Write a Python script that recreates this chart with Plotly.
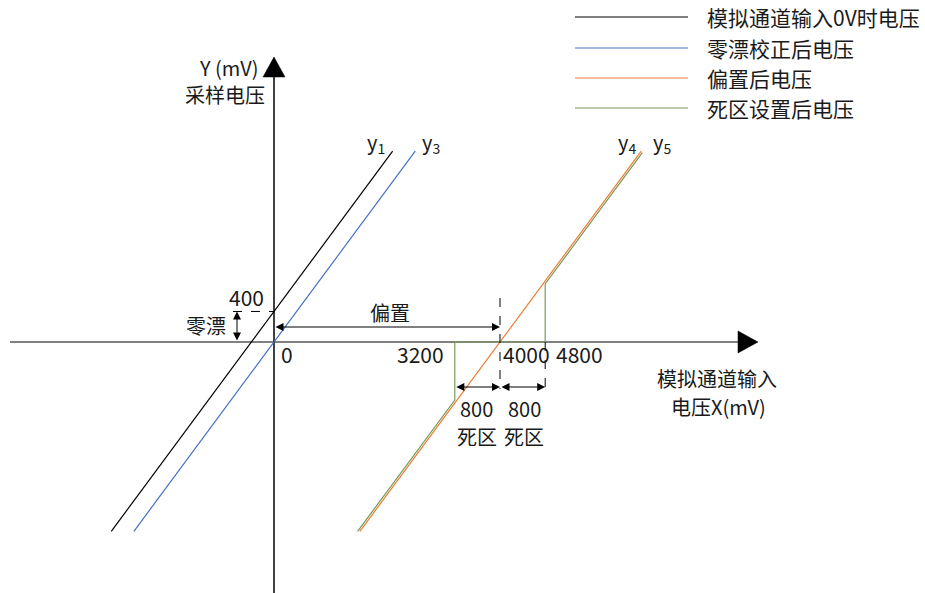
import plotly.graph_objects as go

W, H = 925, 593

# ---------------- data (mV) ----------------
zero_drift = 400          # 零漂
offset_val = 4000         # 偏置
dead_zone = 800           # 死区
x_tick_vals = [0, 3200, 4000, 4800]
x_tick_text = ["0", "3200", "4000", "4800"]

y1_x = [-2880, 2100]      # 模拟通道输入0V时电压
y1_y = [-2480, 2500]
y3_x = [-2480, 2500]      # 零漂校正后电压
y3_y = [-2480, 2500]
y4_x = [1520, 6500]       # 偏置后电压
y4_y = [-2480, 2500]
y5_x = [1480, 3200, 3200, 4800, 4800, 6520]   # 死区设置后电压
y5_y = [-2480, -760, 0, 0, 760, 2480]

legend_names = ["模拟通道输入0V时电压", "零漂校正后电压", "偏置后电压", "死区设置后电压"]
line_names = ["y<sub>1</sub>", "y<sub>3</sub>", "y<sub>4</sub>", "y<sub>5</sub>"]

# ---------------- layout geometry ----------------
SX = 17.7   # mV per pixel (x)
SY = 13.1   # mV per pixel (y)
OX, OY = 274, 342  # origin pixel
def px2x(p): return (p - OX) * SX
def px2y(p): return (OY - p) * SY

BLACK = "#000000"
BLUE = "#4472C4"
ORANGE = "#ED7D31"
GREEN = "#7A9A5C"
GRAY = "#808080"
TXT = "#1a1a1a"
FONT = "Noto Sans CJK SC"
FS = 20

fig = go.Figure()
colors = [BLACK, BLUE, ORANGE, GREEN]
for xs, ys, c, n in [(y1_x, y1_y, BLACK, legend_names[0]),
                     (y3_x, y3_y, BLUE, legend_names[1]),
                     (y4_x, y4_y, ORANGE, legend_names[2]),
                     (y5_x, y5_y, GREEN, legend_names[3])]:
    fig.add_trace(go.Scatter(x=xs, y=ys, mode="lines", name=n,
                             line=dict(color=c, width=1.2), showlegend=False,
                             hoverinfo="skip"))

shapes = []
# x axis
shapes.append(dict(type="line", xref="x", yref="y", x0=px2x(10), x1=px2x(740), y0=0, y1=0,
                   line=dict(color=GRAY, width=2), layer="below"))
# y axis
shapes.append(dict(type="line", xref="x", yref="y", x0=0, x1=0, y0=px2y(595), y1=px2y(77),
                   line=dict(color=BLACK, width=1.5), layer="below"))
# arrowheads of axes
shapes.append(dict(type="path", xref="x", yref="y", xsizemode="pixel", ysizemode="pixel",
                   xanchor=0, yanchor=px2y(77), path="M-11,0 L11,0 L0,20 Z",
                   fillcolor=BLACK, line=dict(color=BLACK, width=0.5)))
shapes.append(dict(type="path", xref="x", yref="y", xsizemode="pixel", ysizemode="pixel",
                   xanchor=px2x(738), yanchor=0, path="M0,-11 L0,11 L20,0 Z",
                   fillcolor=BLACK, line=dict(color=BLACK, width=0.5)))
# dashed guides
dash = dict(color=BLACK, width=1, dash="dash")
shapes.append(dict(type="line", xref="x", yref="y", x0=px2x(233), x1=0,
                   y0=zero_drift, y1=zero_drift, line=dash))
shapes.append(dict(type="line", xref="x", yref="y", x0=offset_val, x1=offset_val,
                   y0=px2y(298), y1=px2y(389), line=dash))
shapes.append(dict(type="line", xref="x", yref="y", x0=offset_val + dead_zone, x1=offset_val + dead_zone,
                   y0=0, y1=px2y(389), line=dash))
# legend lines
leg_y = [17, 48, 78, 108]
for c, py in zip(colors, leg_y):
    shapes.append(dict(type="line", xref="paper", yref="paper", x0=575 / W, x1=688 / W,
                       y0=1 - py / H, y1=1 - py / H, line=dict(color=c, width=1.2)))

annotations = []
def txt(text, px, py, xanchor="center", size=FS):
    annotations.append(dict(text=text, x=px / W, y=1 - py / H, xref="paper", yref="paper",
                            xanchor=xanchor, yanchor="middle", showarrow=False,
                            font=dict(family=FONT, size=size, color=TXT)))

def darrow(x0, y0, x1, y1):
    annotations.append(dict(text="", x=x1, y=y1, ax=x0, ay=y0, xref="x", yref="y",
                            axref="x", ayref="y", showarrow=True, arrowside="end+start",
                            arrowhead=2, startarrowhead=2, arrowsize=1.6, startarrowsize=1.6,
                            arrowwidth=1, arrowcolor=BLACK, standoff=0, startstandoff=0))

# double arrows
darrow(px2x(237), 0, px2x(237), zero_drift)
darrow(0, px2y(327), offset_val, px2y(327))
darrow(offset_val - dead_zone, px2y(387), offset_val, px2y(387))
darrow(offset_val, px2y(387), offset_val + dead_zone, px2y(387))

# legend text
for n, py in zip(legend_names, leg_y):
    txt(n, 705, py, xanchor="left", size=21)

# axis titles
txt("Y (mV)", 228, 68)
txt("采样电压", 225, 95)
txt("模拟通道输入", 717, 378)
txt("电压X(mV)", 718, 407)

# line names
for n, px in zip(line_names, [376, 431, 627, 662]):
    txt(n, px, 142)

# tick labels
tick_px = {0: (279, "left"), 3200: (446, "right"), 4000: (501, "left"), 4800: (554, "left")}
for v, t in zip(x_tick_vals, x_tick_text):
    px, anc = tick_px[v]
    txt(t, px, 354, xanchor=anc, size=21)
txt(str(zero_drift), 266, 297, xanchor="right", size=21)
txt("零漂", 228, 325, xanchor="right")
txt("偏置", 390, 312)
txt(str(dead_zone), 477, 408)
txt("死区", 477, 436)
txt(str(dead_zone), 524, 408)
txt("死区", 524, 436)

fig.update_layout(
    width=W, height=H, margin=dict(l=0, r=0, t=0, b=0),
    paper_bgcolor="white", plot_bgcolor="white",
    xaxis=dict(range=[px2x(0), px2x(W)], visible=False, fixedrange=True),
    yaxis=dict(range=[px2y(H), px2y(0)], visible=False, fixedrange=True),
    shapes=shapes, annotations=annotations, showlegend=False,
)

fig.write_html("out.html", config={"displayModeBar": False},
               post_script="document.body.style.margin='0';document.body.style.padding='0';"
                           "document.body.style.overflow='hidden';")
